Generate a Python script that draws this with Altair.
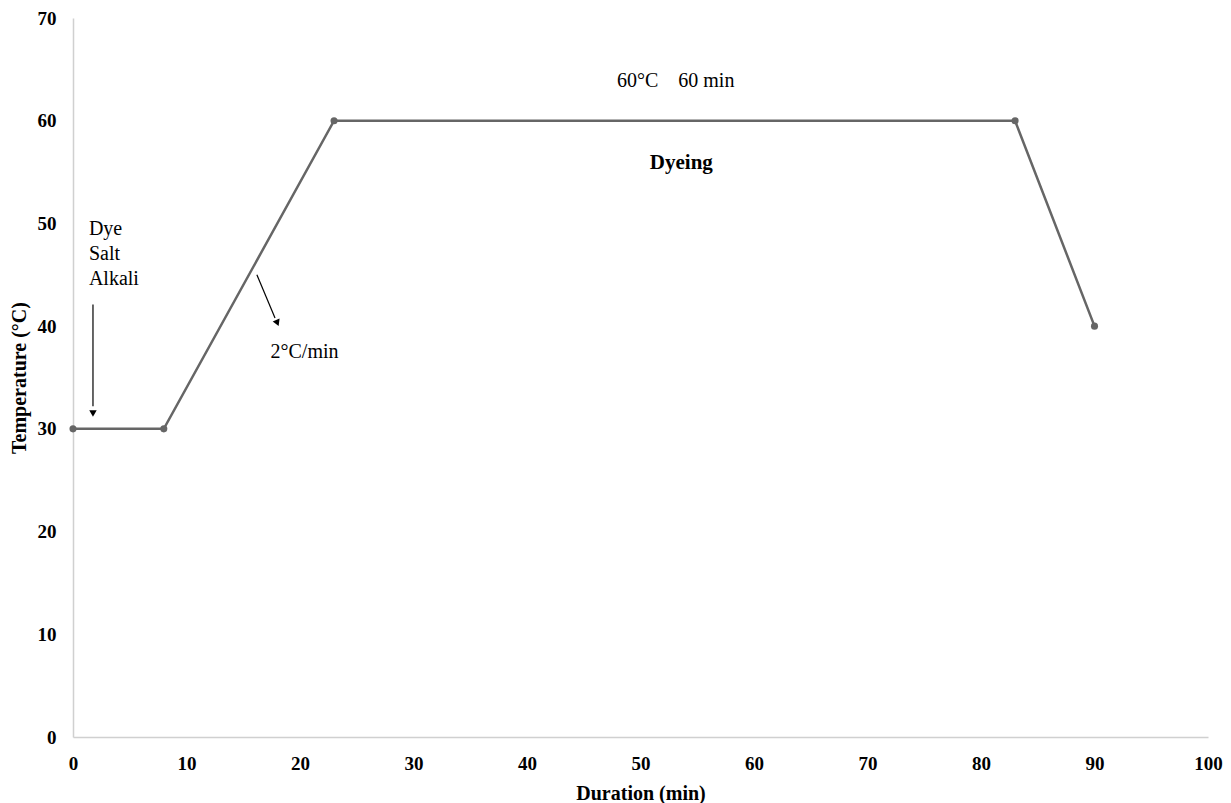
import altair as alt
import pandas as pd

# Process curve
duration = [0, 8, 23, 83, 90]
temperature = [30, 30, 60, 60, 40]

# Annotation texts
note_text = ["Dye", "Salt", "Alkali", "2°C/min", "60°C\u00a0\u00a0\u00a0\u00a060 min"]
note_x = [1.4, 1.4, 1.4, 17.4, 53.1]
note_y = [49.5, 47.0, 44.6, 37.5, 63.9]
note_align = ["left", "left", "left", "left", "center"]

bold_text = ["Dyeing"]
bold_x = [53.6]
bold_y = [55.9]

# Arrows (start -> end in data units)
arrow_x = [1.76, 16.2]
arrow_y = [42.1, 45.0]
arrow_x2 = [1.76, 17.8]
arrow_y2 = [32.2, 40.8]
head_x = [1.76, 17.97]
head_y = [31.6, 40.4]
head_angle = [180, 157]

FONT = "Liberation Serif"
GREY = "#666666"

curve = pd.DataFrame({"x": duration, "y": temperature})
notes = pd.DataFrame({"t": note_text, "x": note_x, "y": note_y, "a": note_align})
bolds = pd.DataFrame({"t": bold_text, "x": bold_x, "y": bold_y})
arrows = pd.DataFrame({"x": arrow_x, "y": arrow_y, "x2": arrow_x2, "y2": arrow_y2})
heads = pd.DataFrame({"x": head_x, "y": head_y, "ang": head_angle})

xs = alt.Scale(domain=[0, 100], nice=False, zero=True)
ys = alt.Scale(domain=[0, 70], nice=False)

xaxis = alt.Axis(values=list(range(0, 101, 10)), grid=False, ticks=False,
                 domainColor="#d0d0d0", domainWidth=1.5, labelFont=FONT,
                 labelFontSize=19, labelFontWeight="bold", labelColor="#000000",
                 labelPadding=17, labelFlush=False, title="Duration (min)", titleFont=FONT,
                 titleFontSize=20, titleFontWeight="bold", titleColor="#000000",
                 titlePadding=10)
yaxis = alt.Axis(values=list(range(0, 71, 10)), grid=False, ticks=False,
                 domainColor="#d0d0d0", domainWidth=1.5, labelFont=FONT,
                 labelFontSize=19, labelFontWeight="bold", labelColor="#000000",
                 labelPadding=17, labelFlush=False, title="Temperature (°C)", titleFont=FONT,
                 titleFontSize=20, titleFontWeight="bold", titleColor="#000000",
                 titlePadding=8)

line = alt.Chart(curve).mark_line(color=GREY, strokeWidth=2.5).encode(
    x=alt.X("x:Q", scale=xs, axis=xaxis),
    y=alt.Y("y:Q", scale=ys, axis=yaxis),
)
pts = alt.Chart(curve).mark_circle(color=GREY, size=50, opacity=1).encode(
    x=alt.X("x:Q", scale=xs), y=alt.Y("y:Q", scale=ys)
)
txt_left = alt.Chart(notes[notes["a"] == "left"]).mark_text(
    font=FONT, fontSize=20, color="#000000", baseline="middle", align="left"
).encode(x=alt.X("x:Q", scale=xs), y=alt.Y("y:Q", scale=ys), text="t:N")
txt_center = alt.Chart(notes[notes["a"] == "center"]).mark_text(
    font=FONT, fontSize=20, color="#000000", baseline="middle", align="center"
).encode(x=alt.X("x:Q", scale=xs), y=alt.Y("y:Q", scale=ys), text="t:N")
txt_bold = alt.Chart(bolds).mark_text(
    font=FONT, fontSize=21, fontWeight="bold", color="#000000", baseline="middle", align="center"
).encode(x=alt.X("x:Q", scale=xs), y=alt.Y("y:Q", scale=ys), text="t:N")
arrow_lines = alt.Chart(arrows).mark_rule(color="#000000", strokeWidth=1.2).encode(
    x=alt.X("x:Q", scale=xs), y=alt.Y("y:Q", scale=ys), x2="x2:Q", y2="y2:Q"
)
arrow_heads = alt.Chart(heads).mark_point(
    shape="triangle", filled=True, color="#000000", size=55, opacity=1
).encode(
    x=alt.X("x:Q", scale=xs), y=alt.Y("y:Q", scale=ys),
    angle=alt.Angle("ang:Q", scale=None),
)

chart = alt.layer(line, pts, txt_left, txt_center, txt_bold, arrow_lines, arrow_heads).properties(
    width=1135, height=719,
    autosize=alt.AutoSizeParams(type="none"),
    padding={"left": 65, "top": 10, "right": 15, "bottom": 70},
).configure_view(stroke=None)

chart.save("out.html", embed_options={"renderer": "svg", "actions": False})
